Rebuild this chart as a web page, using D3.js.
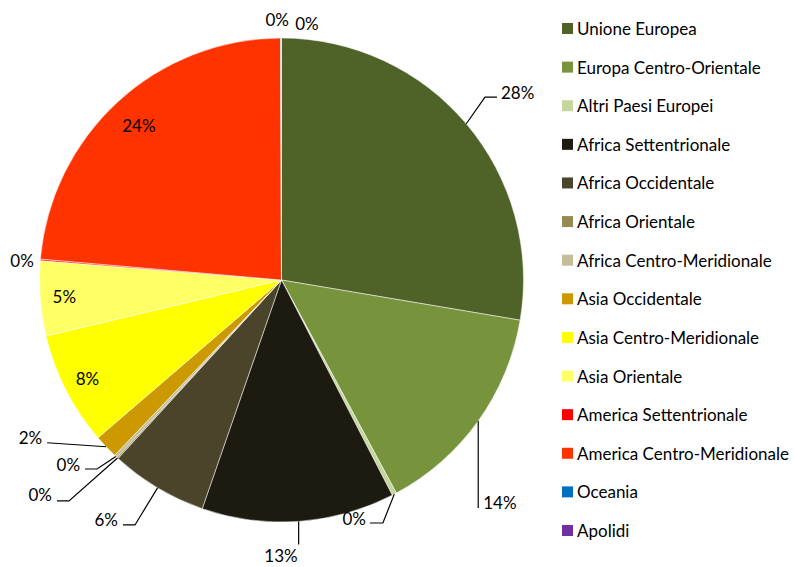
<!DOCTYPE html>
<html><head><meta charset="utf-8">
<script src="https://cdn.jsdelivr.net/npm/d3@7"></script>
<style>html,body{margin:0;padding:0;background:#fff;}svg{display:block;font-family:Lato,"Open Sans",sans-serif;}</style>
</head><body>
<svg id="chart" width="794" height="567"></svg>
<script>
// ---- data ----
const categories = ["Unione Europea","Europa Centro-Orientale","Altri Paesi Europei","Africa Settentrionale","Africa Occidentale","Africa Orientale","Africa Centro-Meridionale","Asia Occidentale","Asia Centro-Meridionale","Asia Orientale","America Settentrionale","America Centro-Meridionale","Oceania","Apolidi"];
const values = [27.7,14.5,0.3,12.9,6.5,0.1,0.2,1.6,7.6,5.0,0.1,23.6,0.04,0.02];
const colors = ["#4F6228","#77933C","#C3D69B","#1D1B10","#4A452A","#948A54","#C4BD97","#CC9900","#FFFF00","#FFFF66","#FF0000","#FF3300","#0070C0","#7030A0"];

// ---- label layout (placement only) ----
const labelLayout = [
  {kind:"lead", elbow:[18.7,-26.7], hook:12, text:[4,-5], anchor:"start"},
  {kind:"lead", elbow:[0,87], hook:0, text:[5,-5], anchor:"start"},
  {kind:"lead", elbow:[-11.4,28.9], hook:-13, text:[-4,-5], anchor:"end"},
  {kind:"lead", elbow:[0,23], hook:0, text:[-1,11], anchor:"end"},
  {kind:"lead", elbow:[-22.6,37.1], hook:-12, text:[-5,-5], anchor:"end"},
  {kind:"lead", elbow:[-48.5,43], hook:-12, text:[-5,-6], anchor:"end"},
  {kind:"lead", elbow:[-18.8,12.6], hook:-12, text:[-5,-5], anchor:"end"},
  {kind:"lead", elbow:[-59,-4], hook:0, text:[-5,-5], anchor:"end"},
  {kind:"in", r:0.9},
  {kind:"in", r:0.9},
  {kind:"out", r:1.075, da:-0.5},
  {kind:"in", r:0.87},
  {kind:"out", r:1.075, da:-0.8},
  {kind:"out", r:1.065, da:5.7}
];

const svg = d3.select("#chart");
const cx = 281.5, cy = 280, R = 242;
const fontSize = 17;

const total = d3.sum(values);
const pie = d3.pie().sort(null).value(d => d)(values);
const arc = d3.arc().innerRadius(0).outerRadius(R);

const g = svg.append("g").attr("transform", `translate(${cx},${cy})`);
g.selectAll("path.slice").data(pie).join("path")
  .attr("class","slice")
  .attr("d", arc)
  .attr("fill", (d,i) => colors[i])
  .attr("stroke", "#fff").attr("stroke-width", 0.5);

const pct = v => Math.round(v / total * 100) + "%";
const polar = (ang, r) => [r * Math.sin(ang), -r * Math.cos(ang)];

pie.forEach((d, i) => {
  const L = labelLayout[i];
  const mid = (d.startAngle + d.endAngle) / 2;
  const txt = pct(values[i]);
  if (L.kind === "in" || L.kind === "out") {
    const a = mid + (L.da || 0) * Math.PI / 180;
    const [x, y] = polar(a, R * L.r);
    g.append("text").attr("x", x).attr("y", y)
      .attr("text-anchor","middle").attr("dominant-baseline","central")
      .attr("font-size", fontSize).attr("fill","#000").text(txt);
  } else {
    const [ex, ey] = polar(mid, R);
    const bx = ex + L.elbow[0], by = ey + L.elbow[1];
    const fx = bx + L.hook, fy = by;
    g.append("path")
      .attr("d", `M${ex},${ey}L${bx},${by}L${fx},${fy}`)
      .attr("fill","none").attr("stroke","#000").attr("stroke-width",1.2);
    g.append("text").attr("x", fx + L.text[0]).attr("y", fy + L.text[1])
      .attr("text-anchor", L.anchor).attr("dominant-baseline","central")
      .attr("font-size", fontSize).attr("fill","#000").text(txt);
  }
});

// ---- legend ----
const ly = d3.scalePoint().domain(categories).range([28.5, 530.5]);
const leg = svg.append("g");
const items = leg.selectAll("g").data(categories).join("g")
  .attr("transform", d => `translate(562,${ly(d)})`);
items.append("rect").attr("x",0).attr("y",-5.5).attr("width",11).attr("height",11)
  .attr("fill", (d,i) => colors[i]);
items.append("text").attr("x",15).attr("y",0).attr("dominant-baseline","central")
  .attr("font-size", fontSize).attr("fill","#000").text(d => d);
</script>
</body></html>
